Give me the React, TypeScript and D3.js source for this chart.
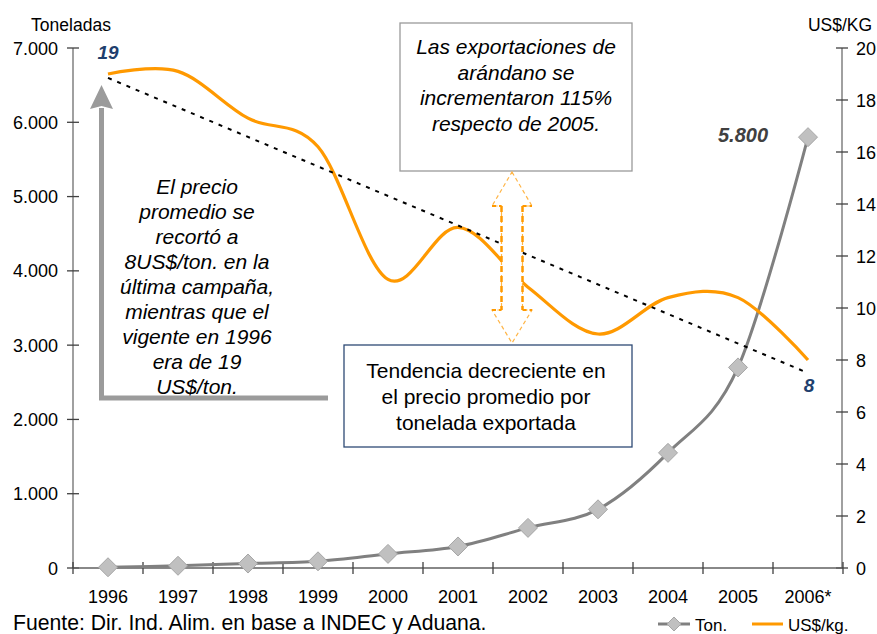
import React from 'react';
import * as d3 from 'd3';

const years = ['1996', '1997', '1998', '1999', '2000', '2001', '2002', '2003', '2004', '2005', '2006*'];
const tons = [10, 30, 60, 90, 190, 290, 540, 790, 1550, 2700, 5800];
const pricePerKg = [19.0, 19.1, 17.3, 16.2, 11.1, 13.1, 10.8, 9.0, 10.4, 10.4, 8.0];
const trendStartEnd = [18.85, 7.5];
const leftTicks = [0, 1000, 2000, 3000, 4000, 5000, 6000, 7000];
const rightTicks = [0, 2, 4, 6, 8, 10, 12, 14, 16, 18, 20];
const leftNote = ['El precio', 'promedio se', 'recortó a', '8US$/ton. en la', 'última campaña,', 'mientras que el', 'vigente en 1996', 'era de 19', 'US$/ton.'];
const topNote = ['Las exportaciones de', 'arándano se', 'incrementaron 115%', 'respecto de 2005.'];
const bottomNote = ['Tendencia decreciente en', 'el precio promedio por', 'tonelada exportada'];

const FONT = 'Liberation Sans, Arial, sans-serif';
const W = 877, H = 634;
const X0 = 73, X1 = 843, Y0 = 568, Y1 = 48;

const fmtThousands = (v: number) => d3.format(',')(v).replace(/,/g, '.');

export default function App() {
  const x = d3.scaleBand<string>().domain(years).range([X0, X1]).padding(0);
  const cx = (y: string) => (x(y) as number) + x.bandwidth() / 2;
  const yL = d3.scaleLinear().domain([0, 7000]).range([Y0, Y1]);
  const yR = d3.scaleLinear().domain([0, 20]).range([Y0, Y1]);

  const tonLine = d3.line<number>()
    .x((_, i) => cx(years[i]))
    .y((d) => yL(d))
    .curve(d3.curveCardinal.tension(0));
  const priceLine = d3.line<number>()
    .x((_, i) => cx(years[i]))
    .y((d) => yR(d))
    .curve(d3.curveCardinal.tension(0));

  const tx0 = cx(years[0]), tx1 = cx(years[years.length - 1]);
  const ty0 = yR(trendStartEnd[0]), ty1 = yR(trendStartEnd[1]);

  const diamond = (px: number, py: number, r: number) =>
    `M${px},${py - r}L${px + r},${py}L${px},${py + r}L${px - r},${py}Z`;

  // dashed double arrow geometry
  const ax = 512, aTop = 172, aHead1 = 206, aHead2 = 310, aBot = 343, hw = 20, sw = 10.5;
  const arrowPts = [
    [ax, aTop], [ax + hw, aHead1], [ax + sw, aHead1], [ax + sw, aHead2], [ax + hw, aHead2],
    [ax, aBot], [ax - hw, aHead2], [ax - sw, aHead2], [ax - sw, aHead1], [ax - hw, aHead1],
  ].map((p) => p.join(',')).join(' ');

  return (
    <svg width={W} height={H} style={{ position: 'absolute', left: 0, top: 0, background: '#fff' }} fontFamily={FONT}>
      <rect x={0} y={0} width={W} height={H} fill="#fff" />
      {/* axis titles */}
      <text x={71} y={31} fontSize={17.5} textAnchor="middle" fill="#000">Toneladas</text>
      <text x={840} y={31} fontSize={17.5} textAnchor="middle" fill="#000">US$/KG</text>

      {/* left axis */}
      <line x1={X0} x2={X0} y1={Y1} y2={Y0} stroke="#808080" strokeWidth={1.5} />
      {leftTicks.map((t) => (
        <g key={'l' + t}>
          <line x1={X0 - 6} x2={X0 + 6} y1={yL(t)} y2={yL(t)} stroke="#404040" strokeWidth={1.3} />
          <text x={58} y={yL(t) + 6.5} fontSize={18} textAnchor="end" fill="#000">{fmtThousands(t)}</text>
        </g>
      ))}
      {/* right axis */}
      <line x1={842} x2={842} y1={Y1} y2={Y0} stroke="#808080" strokeWidth={1.5} />
      {rightTicks.map((t) => (
        <g key={'r' + t}>
          <line x1={836} x2={848} y1={yR(t)} y2={yR(t)} stroke="#404040" strokeWidth={1.3} />
          <text x={856} y={yR(t) + 6.5} fontSize={18} textAnchor="start" fill="#000">{t}</text>
        </g>
      ))}
      {/* x axis */}
      <line x1={X0} x2={X1} y1={Y0} y2={Y0} stroke="#606060" strokeWidth={1.5} />
      {years.map((yr, i) => (
        <g key={yr}>
          <line x1={x(yr) as number} x2={x(yr) as number} y1={Y0 - 6} y2={Y0 + 6} stroke="#404040" strokeWidth={1.3} />
          {i === years.length - 1 && (
            <line x1={X1} x2={X1} y1={Y0 - 6} y2={Y0 + 6} stroke="#404040" strokeWidth={1.3} />
          )}
          <text x={cx(yr)} y={603} fontSize={18} textAnchor="middle" fill="#000">{yr}</text>
        </g>
      ))}

      {/* tons line */}
      <path d={tonLine(tons) || ''} fill="none" stroke="#808080" strokeWidth={3} />
      {tons.map((v, i) => (
        <path key={'m' + i} d={diamond(cx(years[i]), yL(v), 9.5)} fill="#C0C0C0" stroke="#A6A6A6" strokeWidth={1} />
      ))}

      {/* price line */}
      <path d={priceLine(pricePerKg) || ''} fill="none" stroke="#FF9900" strokeWidth={3.2} />

      {/* trend line */}
      <line x1={tx0} y1={ty0} x2={tx1} y2={ty1} stroke="#000" strokeWidth={2} strokeDasharray="4 6" />

      {/* value labels */}
      <text x={cx(years[0])} y={59} fontSize={19} fontWeight="bold" fontStyle="italic" textAnchor="middle" fill="#1F3F6E">{Math.round(pricePerKg[0])}</text>
      <text x={cx(years[10]) + 1} y={392} fontSize={19} fontWeight="bold" fontStyle="italic" textAnchor="middle" fill="#1F3F6E">{Math.round(pricePerKg[10])}</text>
      <text x={743} y={142} fontSize={20} fontWeight="bold" fontStyle="italic" textAnchor="middle" fill="#404040">{fmtThousands(tons[10])}</text>

      {/* gray L arrow */}
      <polyline points="101.5,108 101.5,398 328,398" fill="none" stroke="#9B9B9B" strokeWidth={5} />
      <polygon points="101.5,85 113,109 101.5,106 90,109" fill="#9B9B9B" />

      {/* left note */}
      {leftNote.map((s, i) => (
        <text key={'ln' + i} x={197} y={194 + i * 25} fontSize={21} fontStyle="italic" textAnchor="middle" fill="#000">{s}</text>
      ))}

      {/* top box */}
      <rect x={400} y={23} width={232} height={148} fill="#fff" stroke="#9A9A9A" strokeWidth={1.3} />
      {topNote.map((s, i) => (
        <text key={'tn' + i} x={516} y={54 + i * 25.5} fontSize={21} fontStyle="italic" textAnchor="middle" fill="#000">{s}</text>
      ))}

      {/* dashed double arrow */}
      <polygon points={arrowPts} fill="#fff" stroke="#FFB547" strokeWidth={1.2} strokeDasharray="4 3" />
      <line x1={ax - sw} x2={ax - sw} y1={aHead1} y2={aHead2} stroke="#FF9900" strokeWidth={2.5} strokeDasharray="6 4" />
      <line x1={ax + sw} x2={ax + sw} y1={aHead1} y2={aHead2} stroke="#FF9900" strokeWidth={2.5} strokeDasharray="6 4" />
      <line x1={ax - hw} x2={ax - sw} y1={aHead1} y2={aHead1} stroke="#FF9900" strokeWidth={2} strokeDasharray="4 3" />
      <line x1={ax + sw} x2={ax + hw} y1={aHead1} y2={aHead1} stroke="#FF9900" strokeWidth={2} strokeDasharray="4 3" />
      <line x1={ax - hw} x2={ax - sw} y1={aHead2} y2={aHead2} stroke="#FF9900" strokeWidth={2} strokeDasharray="4 3" />
      <line x1={ax + sw} x2={ax + hw} y1={aHead2} y2={aHead2} stroke="#FF9900" strokeWidth={2} strokeDasharray="4 3" />

      {/* bottom box */}
      <rect x={344} y={345} width={288} height={102} fill="#fff" stroke="#2E4A75" strokeWidth={1.3} />
      {bottomNote.map((s, i) => (
        <text key={'bn' + i} x={486} y={378 + i * 26} fontSize={21} textAnchor="middle" fill="#000">{s}</text>
      ))}

      {/* legend */}
      <line x1={658} x2={690} y1={624} y2={624} stroke="#808080" strokeWidth={3} />
      <path d={diamond(674, 624, 7)} fill="#C0C0C0" stroke="#A6A6A6" strokeWidth={1} />
      <text x={695} y={631} fontSize={17} fill="#000">Ton.</text>
      <line x1={752} x2={783} y1={624} y2={624} stroke="#FF9900" strokeWidth={3} />
      <text x={788} y={631} fontSize={17} fill="#000">US$/kg.</text>

      {/* source */}
      <text x={13} y={630} fontSize={21.2} fill="#000">Fuente: Dir. Ind. Alim. en base a INDEC y Aduana.</text>
    </svg>
  );
}
